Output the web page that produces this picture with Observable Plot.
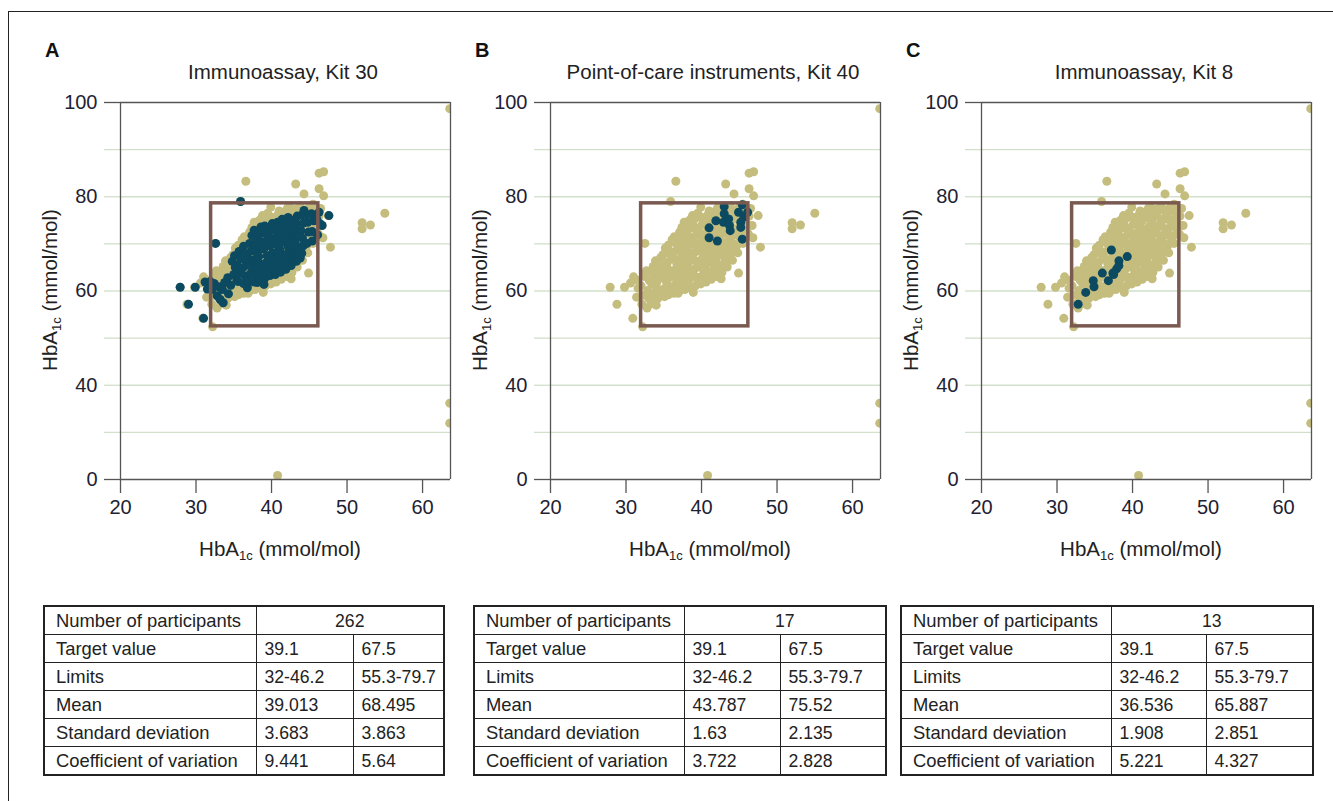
<!DOCTYPE html>
<html><head><meta charset="utf-8">
<script src="https://cdn.jsdelivr.net/npm/d3@7"></script>
<script src="https://cdn.jsdelivr.net/npm/@observablehq/plot@0.6"></script>
<style>
body{margin:0;background:#fff;font-family:"Liberation Sans",Arial,sans-serif;color:#222;}
#page{position:relative;width:1333px;height:801px;overflow:hidden;background:#fff;}
.frame{position:absolute;left:8px;top:11px;width:1400px;height:900px;border-left:1.5px solid #222;border-top:1.5px solid #222;}
.letter{position:absolute;font-weight:bold;font-size:20px;line-height:20px;color:#111;}
.title{position:absolute;font-size:20.5px;line-height:20px;text-align:center;width:400px;color:#222;}
.xlab{position:absolute;font-size:20.5px;line-height:20px;text-align:center;width:300px;color:#222;}
.ylab{position:absolute;font-size:20.5px;line-height:20px;text-align:center;width:300px;color:#222;transform:rotate(-90deg);transform-origin:center center;}
sub{font-size:13px;vertical-align:-4px;line-height:0;}
.plot{position:absolute;}
table{position:absolute;border-collapse:collapse;font-size:18.4px;border:2px solid #222;}
td{border:1.5px solid #222;height:27px;padding:0 0 0 11px;line-height:18px;white-space:nowrap;color:#222;}
td.n{font-size:17.6px;padding-left:8px;}
td.c{text-align:center;padding:0;font-size:17.6px;}
</style>
</head><body>
<div id="page"><div class="frame"></div></div>
<script>
// ---------------- data ----------------
const panelLetters = ["A", "B", "C"];
const panelTitles = ["Immunoassay, Kit 30", "Point-of-care instruments, Kit 40", "Immunoassay, Kit 8"];
const xTicks = [20, 30, 40, 50, 60];
const yTicks = [0, 40, 60, 80, 100];
const yGrid = [20, 40, 50, 60, 70, 80, 90];
const xDomain = [20, 63.7];
// limit box as drawn (x: 32-46.2)
const limitBox = [{x1: 32, x2: 46.2, y1: 52.5, y2: 78.6}];

// all participants (background cloud, identical in every panel)
const allPoints = [
[31.4,58.7],[31.6,60.6],[31.3,62.4],
[32.1,57.2],[32.3,59.1],[32.0,61.1],[32.4,63.1],
[32.8,56.4],[33.0,58.5],[32.9,60.1],[33.1,62.2],[32.7,64.3],
[33.5,57.9],[33.7,59.4],[33.4,61.6],[33.8,63.0],[33.6,65.2],[33.9,66.4],
[34.2,58.4],[34.4,60.1],[34.1,61.9],[34.5,63.8],[34.3,65.3],[34.6,67.1],
[35.1,58.8],[34.9,60.3],[35.2,62.4],[35.0,64.1],[35.3,65.9],[34.9,67.7],[35.2,69.1],
[35.6,59.2],[35.8,60.9],[35.7,62.8],[35.9,64.3],[35.5,66.1],[35.8,68.2],[35.6,69.7],
[36.3,59.5],[36.5,61.3],[36.2,63.1],[36.6,64.7],[36.4,66.8],[36.3,68.3],[36.6,70.3],[36.4,71.5],
[37.0,59.9],[37.2,61.8],[37.1,63.3],[36.9,65.3],[37.3,67.1],[37.0,68.9],[37.2,70.5],[37.1,72.5],
[37.8,60.3],[37.7,62.1],[37.9,63.9],[37.6,65.7],[38.0,67.3],[37.8,69.3],[37.7,70.9],[37.9,72.9],[37.8,74.2],
[38.5,60.7],[38.4,62.5],[38.6,64.1],[38.3,66.1],[38.7,67.9],[38.4,69.7],[38.6,71.3],[38.5,73.3],[38.4,75.0],
[39.2,61.1],[39.3,62.9],[39.1,64.7],[39.4,66.3],[39.2,68.3],[39.0,70.1],[39.3,71.9],[39.2,73.5],[39.1,75.3],
[39.9,61.5],[40.0,63.1],[39.8,65.1],[40.1,66.9],[39.9,68.5],[40.0,70.5],[39.8,72.3],[40.1,74.1],[39.9,75.7],
[40.6,61.9],[40.7,63.7],[40.5,65.3],[40.8,67.3],[40.6,69.1],[40.5,70.9],[40.7,72.5],[40.6,74.5],[40.8,76.1],
[41.3,62.5],[41.2,64.1],[41.4,66.1],[41.3,67.7],[41.1,69.7],[41.4,71.3],[41.2,73.3],[41.3,74.9],[41.4,76.7],
[42.0,63.1],[42.1,64.9],[41.9,66.5],[42.1,68.5],[42.0,70.1],[41.9,72.1],[42.2,73.7],[42.0,75.7],[42.1,77.1],
[42.7,63.9],[42.6,65.5],[42.8,67.5],[42.7,69.1],[42.5,71.1],[42.8,72.7],[42.6,74.7],[42.7,76.3],
[43.4,65.1],[43.3,66.7],[43.5,68.7],[43.4,70.3],[43.2,72.3],[43.5,73.9],[43.3,75.9],[43.4,77.5],
[44.1,66.5],[44.0,68.1],[44.2,70.1],[44.1,71.7],[43.9,73.7],[44.2,75.3],[44.0,77.3],
[44.8,68.1],[44.7,69.7],[44.9,71.7],[44.8,73.3],[44.6,75.3],[44.9,76.9],
[45.5,70.1],[45.4,71.7],[45.6,73.7],[45.5,75.3],[45.3,77.3],
[46.2,72.1],[46.1,74.1],[46.3,75.9],
[33.2,59.5],[33.3,63.9],[34.0,60.9],[34.0,64.6],[34.7,59.2],[34.7,62.9],[34.8,66.1],
[35.4,61.4],[35.4,65.0],[35.3,68.3],[36.0,60.1],[36.1,63.9],[36.0,67.5],[36.1,70.9],
[36.8,62.5],[36.7,66.0],[36.8,69.7],[37.4,60.8],[37.5,64.5],[37.4,68.0],[37.5,71.7],[37.4,73.5],
[38.2,61.2],[38.1,64.9],[38.2,68.5],[38.1,72.1],[38.1,74.6],
[38.9,63.6],[38.8,67.2],[38.9,70.8],[38.8,74.3],
[39.6,62.2],[39.5,65.8],[39.6,69.4],[39.5,73.0],[39.5,76.5],
[40.3,64.3],[40.2,67.9],[40.3,71.6],[40.2,75.2],
[41.0,63.0],[40.9,66.5],[41.0,70.2],[40.9,73.8],[41.0,77.0],
[41.7,65.2],[41.6,68.9],[41.7,72.6],[41.6,76.0],
[42.4,64.3],[42.3,67.9],[42.4,71.8],[42.3,75.3],[42.4,77.9],
[43.1,66.1],[43.0,69.7],[43.1,73.2],[43.0,76.9],
[43.8,68.0],[43.7,71.5],[43.8,75.0],[43.7,77.4],
[44.5,69.0],[44.4,72.6],[44.5,76.2],
[45.2,71.0],[45.1,74.5],[45.0,77.8],
[45.9,73.0],[45.8,76.6],
[27.9,60.8],[29.8,60.8],[28.8,57.2],[30.9,54.2],[32.2,52.4],[30.6,61.7],[31.0,63.0],
[32.5,70.1],[33.3,57.3],[34.0,57.0],
[35.9,79.0],[36.6,83.3],[43.2,82.7],[44.3,80.6],[46.3,85.0],[46.9,85.3],[46.3,81.7],[46.9,80.2],
[47.5,76.0],[46.7,73.9],[46.8,71.3],[47.8,69.3],[44.9,63.8],[42.6,62.6],[38.9,59.7],[36.9,59.5],
[43.8,66.8],[39.9,77.8],[38.8,76.0],[37.7,74.6],[42.1,77.6],[43.8,78.1],[45.5,78.4],[46.5,77.5],
[52.0,74.5],[52.0,73.2],[53.1,74.0],[55.0,76.5],
[63.6,98.7],[63.6,32.4],[63.6,23.9],[40.8,1.7]
];

// Kit 30 participants (262)
const kit30 = [
[27.9,60.8],[29.9,60.8],[29.0,57.2],[31.0,54.2],[31.2,61.9],[31.5,60.4],[31.9,62.0],[32.1,60.3],[32.4,61.6],[32.6,70.1],
[32.8,59.0],[33.2,58.2],[33.6,57.5],[33.0,60.9],[33.5,60.3],[33.8,61.8],[34.3,59.4],[34.6,61.2],[34.2,62.8],
[35.9,79.0],[47.6,76.0],[46.7,73.9],[45.4,70.6],[46.1,71.9],[43.8,67.0],[36.8,60.7],[38.1,61.8],[39.0,61.4],
[35.0,63.5],[35.2,65.0],[34.8,66.3],[35.4,62.4],[35.1,67.5],
[35.6,62.0],[35.8,63.8],[35.5,65.4],[35.9,66.9],[35.7,68.4],
[36.3,61.6],[36.5,63.2],[36.2,64.9],[36.6,66.3],[36.4,67.9],[36.3,69.5],
[37.0,62.1],[37.2,63.7],[37.1,65.4],[36.9,66.9],[37.3,68.5],[37.1,70.1],[37.4,71.8],
[37.7,61.9],[37.9,63.4],[37.8,65.1],[37.6,66.6],[38.0,68.2],[37.8,69.8],[37.9,71.4],[37.7,72.9],
[38.4,62.6],[38.6,64.2],[38.5,65.7],[38.3,67.3],[38.7,68.9],[38.5,70.5],[38.4,72.1],[38.6,73.6],
[39.1,62.7],[39.3,64.3],[39.2,65.9],[39.4,67.5],[39.0,69.0],[39.3,70.6],[39.2,72.2],[39.1,73.8],
[39.8,63.3],[40.0,64.8],[39.9,66.4],[40.1,68.0],[39.8,69.6],[40.0,71.1],[39.9,72.8],[40.1,74.3],
[40.5,63.5],[40.7,65.1],[40.6,66.7],[40.8,68.3],[40.5,69.9],[40.7,71.5],[40.6,73.1],[40.8,74.6],
[41.2,64.0],[41.4,65.6],[41.3,67.2],[41.1,68.8],[41.4,70.4],[41.2,72.0],[41.3,73.6],[41.4,75.2],
[41.9,64.6],[42.1,66.2],[42.0,67.8],[42.2,69.4],[41.9,71.0],[42.1,72.6],[42.0,74.2],[42.2,75.6],
[42.6,65.4],[42.8,67.0],[42.7,68.6],[42.5,70.2],[42.8,71.8],[42.6,73.4],[42.7,75.0],
[43.3,66.3],[43.5,67.9],[43.4,69.5],[43.2,71.1],[43.5,72.7],[43.3,74.3],[43.4,75.9],
[44.0,68.0],[44.2,69.6],[44.1,71.2],[43.9,72.8],[44.2,74.4],[44.0,76.1],[44.3,77.1],
[44.7,70.1],[44.9,72.5],[44.8,74.6],[44.6,76.2],
[45.4,72.6],[45.6,74.9],[45.3,76.4],
[46.0,75.2],[46.3,76.7],[46.5,74.2]
];
// Kit 40 participants (17)
const kit40 = [
[41.0,73.4],[41.0,71.3],[42.1,70.6],[41.9,74.9],[43.0,76.4],[43.0,77.9],[42.9,74.6],[43.7,73.9],[43.8,72.8],
[43.6,75.3],[45.2,74.6],[45.2,73.5],[45.4,78.3],[45.6,75.7],[46.1,76.7],[45.4,71.0],[44.9,76.7]
];
// Kit 8 participants (13)
const kit8 = [
[32.8,57.2],[33.8,59.7],[34.8,62.2],[34.9,60.9],[36.0,63.8],[36.8,62.2],[37.2,68.7],
[37.4,63.8],[37.9,64.7],[38.2,65.4],[38.2,66.4],[39.3,67.3],[37.5,63.5]
];

// tables
const rowLabels = ["Number of participants", "Target value", "Limits", "Mean", "Standard deviation", "Coefficient of variation"];
const nParticipants = ["262", "17", "13"];
const targetValues = [["39.1", "67.5"], ["39.1", "67.5"], ["39.1", "67.5"]];
const limitsText = [["32-46.2", "55.3-79.7"], ["32-46.2", "55.3-79.7"], ["32-46.2", "55.3-79.7"]];
const means = [["39.013", "68.495"], ["43.787", "75.52"], ["36.536", "65.887"]];
const sds = [["3.683", "3.863"], ["1.63", "2.135"], ["1.908", "2.851"]];
const cvs = [["9.441", "5.64"], ["3.722", "2.828"], ["5.221", "4.327"]];
const kitPoints = [kit30, kit40, kit8];

// ---------------- layout ----------------
const page = document.getElementById("page");
const svgLeft = [10, 440, 871];
const W = 452, H = 440, ML = 110, MR = 12, MT = 17, MB = 46;
const svgTop = 85;
const colW = [[212, 97, 91], [210, 96, 106], [210, 95, 107]];
const tableLeft = [43, 473, 900];

function el(tag, cls, html, style) {
  const e = document.createElement(tag);
  if (cls) e.className = cls;
  if (html != null) e.innerHTML = html;
  Object.assign(e.style, style || {});
  page.appendChild(e);
  return e;
}

for (let i = 0; i < 3; i++) {
  const axisX0 = svgLeft[i] + ML;
  const plotW = W - ML - MR;
  const cx = axisX0 + plotW / 2;
  el("div", "letter", panelLetters[i], {left: (axisX0 - 75) + "px", top: "40px"});
  el("div", "title", panelTitles[i], {left: (cx - 202) + "px", top: "62px"});
  el("div", "xlab", "HbA<sub>1c</sub> (mmol/mol)", {left: (cx - 155) + "px", top: "539px"});
  el("div", "ylab", "HbA<sub>1c</sub> (mmol/mol)", {left: (axisX0 - 70 - 150) + "px", top: (290 - 10) + "px"});

  const bottom = H - MB, top = MT, step = (bottom - top) / 8;
  const plot = Plot.plot({
    width: W, height: H,
    marginLeft: ML, marginRight: MR, marginTop: MT, marginBottom: MB,
    style: {fontFamily: "'Liberation Sans', Arial, sans-serif", fontSize: "20px", color: "#1e2233", background: "transparent", overflow: "visible"},
    x: {domain: xDomain},
    y: {type: "linear", domain: [0, 40, 100], range: [bottom, bottom - 2 * step, top]},
    marks: [
      Plot.ruleY(yGrid, {stroke: "#d2dfca", strokeWidth: 1.3}),
      Plot.axisY({ticks: yGrid, tickSize: 16, stroke: "#d2dfca", strokeWidth: 1.3, tickFormat: () => "", label: null}),
      Plot.axisY({ticks: [0, 100], tickSize: 16, stroke: "#555", strokeWidth: 1.3, tickFormat: () => "", label: null}),
      Plot.axisY({ticks: yTicks, tickSize: 0, tickPadding: 23, tickFormat: d => String(d), label: null, fill: "#1e2233", fontSize: 20}),
      Plot.axisX({ticks: xTicks, tickSize: 14, tickPadding: 6, stroke: "#555", strokeWidth: 1.3, label: null, fill: "#1e2233", fontSize: 20}),
      Plot.dot(allPoints, {x: d => d[0], y: d => d[1], r: 4.5, fill: "#c4bd7e", stroke: "none", clip: true}),
      Plot.dot(kitPoints[i], {x: d => d[0], y: d => d[1], r: 4.5, fill: "#0c4a61", stroke: "none", clip: true}),
      Plot.ruleY([0, 100], {stroke: "#555", strokeWidth: 1.3}),
      Plot.ruleX([xDomain[0], xDomain[1]], {stroke: "#555", strokeWidth: 1.3}),
      Plot.rect(limitBox, {x1: "x1", x2: "x2", y1: "y1", y2: "y2", fill: "none", stroke: "#7a5a50", strokeWidth: 3.5})
    ]
  });
  const wrap = el("div", "plot", null, {left: svgLeft[i] + "px", top: svgTop + "px"});
  wrap.appendChild(plot);

  // table
  const t = document.createElement("table");
  t.style.left = tableLeft[i] + "px";
  t.style.top = "605px";
  const cg = document.createElement("colgroup");
  colW[i].forEach(w => { const c = document.createElement("col"); c.style.width = w + "px"; cg.appendChild(c); });
  t.appendChild(cg);
  const rows = [
    [rowLabels[0], nParticipants[i]],
    [rowLabels[1], ...targetValues[i]],
    [rowLabels[2], ...limitsText[i]],
    [rowLabels[3], ...means[i]],
    [rowLabels[4], ...sds[i]],
    [rowLabels[5], ...cvs[i]]
  ];
  rows.forEach(r => {
    const tr = document.createElement("tr");
    r.forEach((v, j) => {
      const td = document.createElement("td");
      td.textContent = v;
      if (r.length === 2 && j === 1) { td.colSpan = 2; td.className = "c"; }
      else if (j > 0) td.className = "n";
      tr.appendChild(td);
    });
    t.appendChild(tr);
  });
  t.style.tableLayout = "fixed";
  t.style.width = colW[i].reduce((a, b) => a + b, 0) + "px";
  page.appendChild(t);
}
</script>
</body></html>
